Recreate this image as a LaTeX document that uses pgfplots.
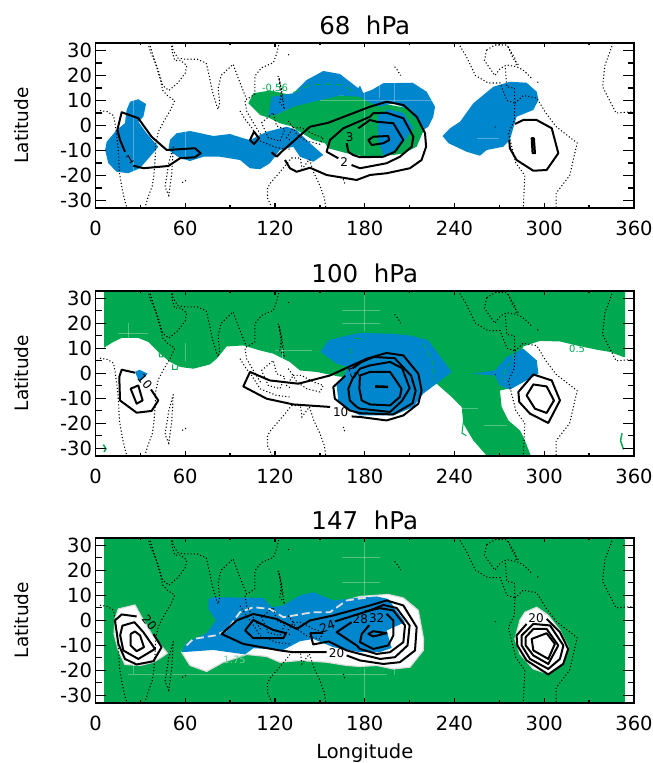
\documentclass[border=0pt]{standalone}
\usepackage{pgfplots}
\pgfplotsset{compat=1.18}
\usepackage{fontspec}
\setmainfont{DejaVu Sans}
\definecolor{gr}{HTML}{00A94F}
\definecolor{bl}{HTML}{0086CD}
\pgfplotsset{
 panel/.style={
  scale only axis, width=538.5pt, height=165pt, anchor=south west,
  xmin=0, xmax=360, ymin=-33, ymax=33,
  xtick={0,60,...,360}, minor x tick num=1,
  ytick={-30,-20,...,30}, minor y tick num=1,
  tick align=inside, tick pos=both, xticklabel pos=lower, yticklabel pos=left,
  axis line style={line width=1.8pt}, axis on top=true,
  major tick length=10.5pt, minor tick length=6pt,
  tick style={line width=1.3pt,black},
  xtick style={draw=none},
  /pgf/number format/assume math mode=true,
  tick label style={font=\fontsize{19.5}{19}\selectfont},
  xticklabel style={yshift=-10pt},
  ylabel={Latitude},
  ylabel style={font=\fontsize{18.5}{19}\selectfont,at={(axis description cs:-0.138,0.5)},anchor=center},
  title style={font=\fontsize{24.5}{24}\selectfont,at={(axis description cs:0.5,1)},anchor=south,yshift=-1.5pt},
  xlabel style={font=\fontsize{19.5}{19}\selectfont,at={(axis description cs:0.5,-0.305)},anchor=center},
 },
 xonly/.style={
  scale only axis, width=538.5pt, height=165pt, anchor=south west,
  xmin=0, xmax=360, ymin=-33, ymax=33,
  xtick={0,60,...,360}, minor x tick num=1, ytick=\empty,
  tick align=inside, tick pos=both, xticklabel=\empty,
  axis line style={line width=1.8pt},
  major tick length=4.5pt, minor tick length=2.5pt,
  tick style={line width=1.3pt,black},
 },
 fb/.style={fill=bl,draw=none},
 fg/.style={fill=gr,draw=none},
 fw/.style={fill=white,draw=black!14,line width=1.2pt},
 cn/.style={black,line width=2pt,line join=round},
 coast/.style={black,line width=1.05pt,dash pattern=on 1.1pt off 2.2pt},
 gline/.style={gr,line width=1pt},
 faint/.style={white,opacity=0.3,line width=0.7pt},
}
\newcommand{\coast}{%
 \addplot[coast] coordinates {(3,6)(8,5.5)(12,4)(13,1)(15,-8)(15.5,-13)(16,-19)(18,-26)(20,-31)(21,-33)};
 \addplot[coast] coordinates {(35,33)(37,29)(40,25)(43,19)(45,14)(48,12)(53,10)(50,6)(46,2)(42,-2.5)(40,-8)(40,-12)(39,-20)(38,-24)(35,-29)(33,-33)};
 \addplot[coast] coordinates {(36,33)(39,27)(42,22)(45,16)(49,14)(55,17)(60,21)(61,24)(57,26)(53,26)(51,30)(52,33)};
 \addplot[coast] coordinates {(50,33)(52,30)(55,27)(60,26.5)(68,26.5)(74,25)(76,20)(78,14)(81,8)(82,6.5)(83,9)(82,15)(84,20)(92,24.5)(96,18)(101,10.5)(106.6,12.5)(106.6,19.8)(111,23.1)(118.9,25.1)(121,28.5)(122.9,33)};
 \addplot[coast] coordinates {(52,-8.5)(49,-15)(46.5,-24.5)(49,-28)(51,-19)(52,-8.5)};
 \addplot[coast] coordinates {(100,9.8)(101,5.8)(105.5,1.1)(111,-4.2)};
 \addplot[coast] coordinates {(96.6,5.8)(100,2.5)(104.4,-0.9)(110,-6.2)(121.1,-8.9)(130,-9.5)};
 \addplot[coast] coordinates {(111,1.1)(118.9,5.1)(121,-0.2)(126.7,-1.5)(123.3,-6.2)(115.5,-4.9)(111,1.1)};
 \addplot[coast] coordinates {(122,19.8)(124.4,14.5)(123.3,9.1)(126,7.1)(124.8,13)(122.7,19.1)(123.5,15)(125,10)};
 \addplot[coast] coordinates {(128.9,1.8)(132.2,-0.9)(127.8,-4.9)(131,-6.2)};
 \addplot[coast] coordinates {(132.2,-0.9)(137.8,-0.9)(145.6,-3.5)(152.3,-4.9)(150,-7.5)(141.2,-6.2)(134.5,-3.5)(132.2,-0.9)};
 \addplot[coast] coordinates {(118,-33)(115,-29)(115,-25)(117,-23)(127,-16)(131,-13)(137,-13)(138,-17.5)(143,-13.5)(146,-19)(150,-24)(153,-29)(154,-33)};
 \addplot[coast] coordinates {(165.7,-21.5)(166.8,-23.5)};
 \addplot[coast] coordinates {(60.5,-22)(57.5,-23)};
 \addplot[coast] coordinates {(129,28.5)(129.3,28)};
 \addplot[coast] coordinates {(200,23.5)(202,22)(204,20)};
 \addplot[coast] coordinates {(242.5,33)(248,27.5)(254,20)(262.5,17)(270.5,17)(275,10)(280.4,8.9)(280,2)(276,-3)(281,-15)(287,-20)(286,-33)};
 \addplot[coast] coordinates {(261.5,30.2)(267,32.2)(274.9,32.2)(280.4,26.9)(281.5,23.5)};
 \addplot[coast] coordinates {(261.5,30.2)(260,26)(267,20)(270.7,22.9)(274.9,24.2)(281.5,23.5)(285.9,22.2)(291.6,18.9)};
 \addplot[coast] coordinates {(276,31.5)(279,27)(283,24)};
 \addplot[coast] coordinates {(274,22.9)(275,15.5)(280,15)(280.4,8.9)};
 \addplot[coast] coordinates {(280.4,8.9)(286,12)(295,11)(301,5)(308,-0.5)(322,-7)(317,-20)(308,-27)(308,-33)};
 \addplot[coast] coordinates {(346,33)(340.5,24)(339,15.5)(348,5)(360,5.5)};
 \addplot[coast] coordinates {(267,-0.5)(267.4,-0.7)};
 \addplot[coast] coordinates {(295.5,17.5)(296,17)};
}
\begin{document}
\begin{tikzpicture}
\path[use as bounding box] (0,0) rectangle (653pt,763pt);
% ---------- 68 hPa
\begin{axis}[panel, at={(95.5pt,555pt)}, title={68\ \ hPa}]
 \addplot[fb] coordinates {(20.8,6.2)(23.1,9.5)(28.6,10.5)(33.8,8.6)(32,3.5)(28.6,1.5)(34.2,-3.1)(42,-8.5)(36.4,-12.5)(29.7,-17.1)(21.9,-19.1)(14.1,-18.5)(8.6,-15.1)(6.4,-9.8)(7.5,-6.5)(14.1,-1.8)(19.7,0.9)} --cycle;
 \addplot[fb] coordinates {(49.8,-5.8)(54.3,-3.1)(63.2,-2.2)(78.8,-4.2)(89.9,-3.4)(98.8,-5.1)(103.3,-5.8)(114.4,-2.5)(127.8,-0.5)(134.5,-1.8)(143.4,-7.1)(152.3,-11.8)(145.6,-14.5)(136.7,-12.5)(132.2,-8.5)(123.3,-9.8)(116.6,-15.1)(110,-17.5)(103.3,-17.1)(96.6,-13.8)(83.2,-12.5)(72.1,-12.5)(63.2,-14.2)(56.5,-13.1)(48.7,-9.8)} --cycle;
 \addplot[fg] coordinates {(102.2,8.9)(105.5,12.9)(117,14)(132,12)(176,12)(190,9)(208,7)(218,0.2)(219,-2.5)(214.7,-8.5)(205.8,-11.2)(199,-11.8)(182.4,-12.5)(181,-12.5)(167.9,-11.1)(155.6,-9.1)(153.4,-7.1)(145.6,-5.8)(134.5,-1.8)(132.2,-0.5)(123.3,0.9)(116.6,2.9)(110,4.2)} --cycle;
 \addplot[fb] coordinates {(115.5,3.5)(117.8,11.5)(132.2,12.9)(141.2,18.2)(152.3,21.8)(163.4,20.6)(175.7,14.9)(176.8,16)(179,13)(184.6,14.2)(192.4,16.9)(212,17.1)(221.4,13.5)(227,7.5)(225.8,3.5)(222.5,-0.5)(219.1,-1.8)(218,0)(208,6.8)(199,8.9)(190,7.5)(182.4,9.5)(176.8,11.5)(163.4,12)(145.6,9.5)(132.2,7.5)(120,4)(118,4.5)} --cycle;
 \addplot[fb] coordinates {(189,4)(195.7,6.5)(205.8,5)(212.5,-1)(207,-5.8)(201.3,-9.8)(199,-11.3)(192.4,-12.1)(189,-5.8)} --cycle;
 \addplot[fb] coordinates {(232,-4.2)(237,-1.1)(243.7,1.5)(252.6,8.9)(266,15.5)(277,17.5)(288.2,17.1)(295,13.5)(296.1,10.2)(292.7,6.2)(281.5,3.5)(277,-5.8)(272.6,-8.5)(261.5,-9.8)(257,-12.1)(248.1,-10.5)(236,-7.1)} --cycle;
 \addplot[faint] coordinates {(180,-12)(180,17)};
 \addplot[faint] coordinates {(200,17)(200,9)};
 \addplot[faint] coordinates {(190,17)(190,11)};
 \addplot[faint] coordinates {(150,10)(225,10)};
 \addplot[faint] coordinates {(60,-2)(60,-14)};
 \addplot[faint] coordinates {(25,10)(25,-19)};
 \addplot[faint] coordinates {(255,-5)(270,-5)};
 \addplot[gline,dash pattern=on 7pt off 4pt] coordinates {(132.2,13.1)(143.4,16.2)(155.6,16.5)(165.7,16.2)(173.5,12.9)};
 \addplot[gline,dash pattern=on 5pt off 4pt] coordinates {(206,5.5)(209,4.5)(213,3)(218,-1)};
 \node[text=gr,font=\fontsize{10}{10}\selectfont] at (axis cs:120,15) {-0.56};
 % contours
 \addplot[cn] coordinates {(19.7,-10.5)(16.4,-5.8)(14.6,-1.8)(17.5,5.3)(28.6,2.9)(37.5,-4.5)(47.6,-9.8)(66.5,-9.1)(70.3,-11.1)(66.5,-12.7)(56.5,-13.1)(48.7,-16.2)(32,-17.1)(25.3,-16.1)};
 \addplot[cn] coordinates {(103.3,-5.8)(106,-2.5)(109.3,-5.1)(106,-7.4)} --cycle;
 \addplot[cn] coordinates {(126.7,-13.8)(130,-17.1)(134.5,-18.5)(143.4,-16.9)(154.5,-19.8)(174.6,-21.8)(183.5,-19.8)(194.6,-19.1)(210.2,-17.1)(218,-13.8)(221,-8.5)(220.3,-3.1)(214.7,3.5)(205.8,8.2)(194.6,9.5)(183.5,7.5)(155.6,1.1)(143.4,-0.5)(124.4,-10.5)(121.1,-12.5)(117.8,-10.7)};
 \addplot[cn] coordinates {(162.3,-13.1)(154.5,-10.5)(156.8,-5.8)(165.7,-1.1)(183.5,3.5)(185.7,4.9)(194.6,5.1)(205.8,2.9)(212.5,-4.5)(211.4,-8.5)(203.5,-12.5)(194.6,-15.1)(176.8,-17.1)(171.2,-15.8)};
 \addplot[cn] coordinates {(175.7,-1.1)(183.5,2.2)(187.9,1.5)(199.1,0.9)(205.8,-5.8)(200.2,-10.5)(192.4,-12.5)(176.8,-12.7)(172.2,-11.8)(169,-10.5)(167.9,-7.1)};
 \addplot[cn] coordinates {(182.4,-5.8)(185.7,-4.5)(195.7,-4.2)(196.4,-5.8)(192.4,-7.1)(184.6,-7.8)} --cycle;
 \addplot[cn] coordinates {(280.4,0.6)(286,2.2)(294.9,2.2)(305,-1.1)(309.4,-11.1)(301.6,-17.8)(292.7,-18.1)(281.5,-13.8)(277,-9.1)(276.6,-5.8)};
 \addplot[cn,fill=black!25] coordinates {(291.6,-5.1)(293.1,-5.1)(293.8,-11.1)(292.2,-11.1)} --cycle;
 \node[font=\fontsize{11}{11}\selectfont,rotate=30] at (axis cs:23,-13.5) {1};
 \node[font=\fontsize{12}{12}\selectfont] at (axis cs:166.3,-14.8) {2};
 \node[font=\fontsize{12}{12}\selectfont] at (axis cs:170,-4.7) {3};
 \coast
\end{axis}
\begin{axis}[xonly, at={(95.5pt,555pt)}]
\end{axis}
% ---------- 100 hPa
\begin{axis}[panel, at={(95.5pt,307.3pt)}, title={100\ \ hPa}]
 \addplot[fg] coordinates {(5.7,33)(5.7,10.2)(11.9,12.5)(17.5,14.1)(28.6,14.1)(35.3,12.5)(43.1,7.8)(49.8,4.5)(56.5,2.5)(65.4,1.8)(76.5,3.5)(81,5.8)(87.7,10.7)(98.8,11.1)(110,9.1)(118.9,7.8)(129.9,4.5)(136.7,1.1)(147.8,0.5)(162.4,-1.3)(175,-2)(215,-3)(228,-4.2)(238.1,-9.5)(244.8,-13.5)(245.9,-20.2)(252.6,-26.9)(261.5,-33)(291,-33)(287.1,-26.9)(283.8,-22.9)(276,-18.9)(271.5,-13.5)(270.4,-6.9)(276,-6.2)(286,10.7)(297.1,12.9)(310.5,12.7)(321.6,11.1)(335,9.4)(344,8.5)(352.8,6.5)(354,6.5)(354,33)} --cycle;
 \addplot[fb] coordinates {(150.5,8.5)(155.6,13.1)(165.7,14.7)(176.8,16.1)(196.9,15.8)(210.2,15.1)(222.5,13.1)(238.1,0.5)(228,-4.2)(219.1,-8.2)(212.5,-13.5)(199.1,-16.9)(176.8,-16.9)(170.1,-14.9)(162.3,-10.9)(161.2,-4.9)(165.7,-1.5)(169,2.5)(161.2,3.8)} --cycle;
 \addplot[fb] coordinates {(251.5,-0.2)(267,1.1)(275,6.5)(286,9.8)(295,5.1)(296.1,-0.2)(290.2,-2.2)(277,-6.6)(270.4,-4.9)(267,-0.9)} --cycle;
 \addplot[fb] coordinates {(26.4,0.5)(29.3,1.4)(34.9,-0.2)(29.3,-3.5)} --cycle;
 \addplot[faint] coordinates {(180,17)(180,33)};
 \addplot[faint] coordinates {(165,25)(190,25)};
 \addplot[faint] coordinates {(165,20)(190,20)};
 \addplot[faint] coordinates {(22,14)(22,20)};
 \addplot[faint] coordinates {(15,16)(35,16)};
 \addplot[faint] coordinates {(60,5)(60,12)};
 \addplot[faint] coordinates {(125,5)(125,12)};
 \addplot[faint] coordinates {(120,9)(145,9)};
 \addplot[faint] coordinates {(240,-14)(256,-14)};
 \addplot[faint] coordinates {(260,-21)(275,-21)};
 \addplot[gline,line width=1.5pt] coordinates {(5.2,-28.6)(7,-30.2)(5.7,-31.5)};
 \addplot[gline,line width=1.5pt] coordinates {(352,-24)(351,-27)(353,-30.5)};
 \addplot[gline] coordinates {(42.5,8)(43,6.5)(45,6.5)(45,8)};
 \addplot[gline] coordinates {(51.5,3.5)(51.5,1.5)(54.5,1.5)(55,3)};
 \addplot[gline] coordinates {(246,-19)(245,-24)(248,-25)};
 \addplot[gline,dash pattern=on 6pt off 3pt] coordinates {(219,11.8)(225,5.1)(226.6,-2.9)};
 \addplot[gline,dash pattern=on 6pt off 3pt] coordinates {(280.4,7.8)(274,1)(271.5,-2.9)};
 \addplot[gline,dash pattern=on 6pt off 3pt] coordinates {(173,14)(180,13.5)};
 \addplot[gline,dash pattern=on 6pt off 3pt] coordinates {(171,10)(170,6)};
 \node[text=gr,font=\fontsize{10}{10}\selectfont] at (axis cs:322,9.8) {0.5};
 \addplot[cn] coordinates {(26.4,0.2)(17.5,1.4)(15.9,-1.5)(16.4,-10.9)(27.5,-15.8)(37.5,-15.1)(42,-10.9)(37.1,-6.5)};
 \addplot[cn] coordinates {(23.5,-6.2)(28.6,-4.9)(31.5,-10.9)(27.5,-12.2)} --cycle;
 \addplot[cn] coordinates {(156.8,-13.5)(132.2,-12.5)(114.4,-10.2)(98.8,-5.3)(103.3,0.5)(116.6,-2.9)(135.6,-4.2)(156.8,-0.9)(181.3,5.8)(194.6,8.1)(205.8,7.1)(215.8,-0.2)(218,-6.9)(215.8,-12.2)(205.8,-16.9)(194.6,-18.9)(176.8,-17.5)(171.2,-17.3)};
 \addplot[cn] coordinates {(167,-1)(159,-5.5)(160,-10.2)(170,-14.9)(177,-16)(199,-16.5)(212,-12)(214,-7)(211,-1)(200,6)(186,6.5)(178,4.5)(172,2)};
 \addplot[cn] coordinates {(172,-2)(169,-6.2)(170,-10.9)(174.6,-13.5)(176.8,-14.2)(196.9,-15.5)(205,-11)(210,-6)(205,2)(196.9,4.5)(183.5,3.1)(176.8,1.8)} --cycle;
 \addplot[cn] coordinates {(176.4,-6.2)(178,-10.9)(183.5,-12.5)(196.9,-12.9)(203.5,-9.5)(204.6,-6.2)(196.9,0.5)(183.5,0.5)(176.8,-0.9)} --cycle;
 \addplot[black,line width=2.6pt] coordinates {(187,-5.3)(195.6,-5.5)};
 \addplot[cn] coordinates {(282.7,-7.5)(292.7,-0.5)(305,-2.9)(310.5,-10.9)(302.7,-19.9)(290.5,-16.2)(283.3,-11.5)} --cycle;
 \addplot[cn] coordinates {(288.2,-8.9)(292.7,-4.5)(301.6,-5.3)(306.5,-10.9)(301.6,-15.9)(293.8,-14.2)} --cycle;
 \node[font=\fontsize{12}{12}\selectfont,rotate=-50] at (axis cs:33,-3.2) {10};
 \node[font=\fontsize{12}{12}\selectfont] at (axis cs:163.9,-15.6) {10};
 \node[font=\fontsize{11}{11}\selectfont,rotate=-70] at (axis cs:172.5,0.5) {15};
 \coast
\end{axis}
\begin{axis}[xonly, at={(95.5pt,307.3pt)}]
\end{axis}
% ---------- 147 hPa
\begin{axis}[panel, at={(95.5pt,60.3pt)}, title={147\ \ hPa}, xlabel={Longitude}]
 \addplot[fg] coordinates {(5.7,-33)(5.7,33)(354,33)(354,-33)} --cycle;
 \addplot[fw] coordinates {(13,0.5)(15.3,4.5)(26.4,6.1)(30.9,1.2)(37.5,-5.5)(43.1,-9.5)(48,-13.2)(44.2,-14.8)(38.7,-16.8)(29.8,-18.1)(19.7,-17.7)(15.3,-12.1)(12.4,-5.5)} --cycle;
 \addplot[fw] coordinates {(57.6,-12.8)(63.2,-18.1)(74.3,-20.5)(85.4,-16.8)(101,-13.7)(114.4,-14.5)(123.3,-16.8)(136.7,-16.1)(154.5,-16.8)(167.9,-18.1)(176.8,-18.5)(187.9,-18.1)(199.1,-19.5)(210.2,-18.8)(219.1,-12.1)(219.3,-7.5)(215.8,3.9)(205.8,8.9)(195.7,10.3)(176.8,9.5)(150,5)(100,-3)(75,-8)} --cycle;
 \addplot[fw] coordinates {(283.8,0.1)(287.1,3.2)(295,5.2)(302.7,1.9)(310.5,-4.1)(316,-10.8)(313.2,-16.8)(302.7,-21.5)(292.7,-19.5)(283.8,-13.5)(280.4,-7.5)} --cycle;
 \addplot[fb] coordinates {(75.4,8.5)(78.8,9.2)(112.2,8.9)(117.8,5.2)(125.6,5.9)(136.7,9.9)(145.6,11.2)(159,7.9)(174.6,8.9)(187.9,9.5)(195.7,8.5)(206.9,-0.8)(194.6,-4.1)(198,-11.1)(190.2,-12.8)(176.8,-12.8)(159,-10.8)(145.6,-7.5)(136.7,-8.4)(125.6,-11.9)(105.6,-11.2)(99.9,-13.7)(78.8,-11.9)(57.6,-12.8)(60.9,-8.8)(74.3,-5.2)(80.6,-0.1)(75.4,4.5)} --cycle;
 \addplot[faint] coordinates {(22,-21.5)(195,-21.5)};
 \addplot[faint] coordinates {(180,10)(180,33)};
 \addplot[faint] coordinates {(180,-19)(180,-33)};
 \addplot[faint] coordinates {(165,15)(190,15)};
 \addplot[faint] coordinates {(165,25)(190,25)};
 \addplot[faint] coordinates {(25,-18)(25,-21.5)};
 \addplot[faint] coordinates {(200,-19)(200,-22)};
 \addplot[color=black!12,line width=1.8pt,dash pattern=on 8pt off 4pt] coordinates {(60.9,-10.1)(65.4,-7.5)(79.9,-6.1)(87.7,-4.1)(96.6,3.2)(105.5,5.2)(116.6,4.5)(125.6,1.2)(145.6,3.2)(156.8,3.2)(167.9,7.9)(183.5,9.2)};
 \node[text=gr!55!white,font=\fontsize{10}{10}\selectfont] at (axis cs:93,-16) {1.75};
 % contours west
 \addplot[cn] coordinates {(27.5,1.5)(17.5,2.3)(13,-0.1)(15.3,-9.5)(19.7,-15.5)(27.5,-17.7)(38.7,-16.4)(44.2,-10.8)(38.7,-5.5)};
 \addplot[cn] coordinates {(16.5,-6)(18,-2.2)(26,-0.8)(32,-4.8)(39.8,-11.5)(28.6,-15.5)(18.6,-12.1)} --cycle;
 \addplot[cn] coordinates {(23.5,-5.5)(26.4,-4.5)(29.8,-6.1)(32.4,-10.8)(27.5,-12.4)(23.5,-10.1)} --cycle;
 % centre
 \addplot[cn] coordinates {(154.5,-12.8)(132.2,-12.8)(123.3,-12.1)(98.8,-9.5)(84.3,-5.5)(94.4,-0.1)(105.5,2.5)(121.1,0.5)(134.5,-3.5)(143.4,-0.1)(159,1.9)(183.5,5.9)(194.6,7.9)(205.8,5.9)(214.7,-2.8)(213.6,-12.1)(203.5,-16.8)(192.4,-17.5)(176.8,-16.1)(167.9,-14.1)};
 \addplot[cn] coordinates {(100,-4.1)(105.5,0.1)(118.9,-3.9)(127.3,-5.2)(125.6,-7.2)(105.5,-7.2)} --cycle;
 \addplot[cn] coordinates {(152,-5)(143.7,-5.2)(145.5,-9.7)(156,-8.5)(168,-12.1)(176.8,-13.5)(190.2,-15.5)(200.2,-14.8)(208.6,-10.1)(210,-2.1)(201.3,4.9)(192.4,6.1)(183.5,3.9)(160,-0.5)};
 \addplot[cn] coordinates {(171.2,-0.8)(161.2,-4.8)(174.6,-10.1)(176.8,-11.5)(187.9,-13.5)(196.9,-12.8)(205.8,-8.8)(206.9,-2.1)(199.1,3.9)(190.2,4.8)(180,3.5)};
 \addplot[cn] coordinates {(183,-2)(178,-5.5)(176.8,-8.8)(185.7,-11.5)(195.7,-10.1)(199.1,-6.1)(199.1,-0.1)(194.6,2.5)};
 \addplot[cn] coordinates {(182.4,-5.5)(185.7,-4.4)(194.6,-5.2)(185.7,-6.5)} --cycle;
 % east
 \addplot[cn] coordinates {(288.2,-1.5)(281.5,-6.1)(282,-10.1)(288.2,-16.1)(302.7,-21.7)(312.7,-17.5)(316,-11.5)(310.5,-4.8)(301.6,0.5)};
 \addplot[cn] coordinates {(284.9,-6.1)(292.7,-1.5)(303.9,-2.1)(312.8,-10.1)(310.5,-15.5)(302.7,-19.5)(290.5,-15.5)(284.9,-10.1)} --cycle;
 \addplot[cn] coordinates {(287.6,-6.8)(292.7,-3.5)(301.6,-3.5)(309.4,-10.1)(302.7,-17.5)(292.7,-14.1)(287.6,-10.1)} --cycle;
 \addplot[cn] coordinates {(291.6,-7.5)(301.6,-5.2)(307.1,-9.5)(302.7,-15.5)(292.7,-12.1)} --cycle;
 \node[font=\fontsize{12}{12}\selectfont,rotate=-50] at (axis cs:36,-1) {20};
 \node[font=\fontsize{12}{12}\selectfont] at (axis cs:161.2,-13.2) {20};
 \node[font=\fontsize{12}{12}\selectfont,rotate=20] at (axis cs:155,-2.5) {24};
 \node[font=\fontsize{12}{12}\selectfont] at (axis cs:177,0.5) {28};
 \node[font=\fontsize{12}{12}\selectfont] at (axis cs:188,0.9) {32};
 \node[font=\fontsize{12}{12}\selectfont] at (axis cs:294.5,1) {20};
 \coast
\end{axis}
\begin{axis}[xonly, at={(95.5pt,60.3pt)}]
\end{axis}
\end{tikzpicture}
\end{document}
